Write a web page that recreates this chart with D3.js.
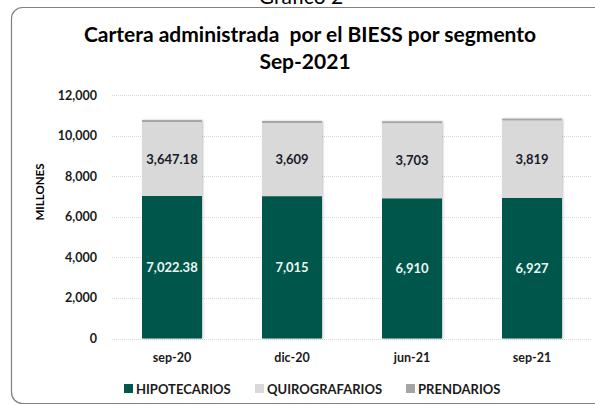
<!DOCTYPE html>
<html>
<head>
<meta charset="utf-8">
<script src="https://cdn.jsdelivr.net/npm/d3@7"></script>
<style>
  body { margin: 0; background: #fff; }
  svg { display: block; font-family: Lato, "Open Sans", sans-serif; }
</style>
</head>
<body>
<script>
// data
var categories = ["sep-20", "dic-20", "jun-21", "sep-21"];
var hipotecarios = [7022.38, 7015, 6910, 6927];
var quirografarios = [3647.18, 3609, 3703, 3819];
var prendarios = [95, 92, 90, 88];   // thin strip on top, no label
var hipoLabels = ["7,022.38", "7,015", "6,910", "6,927"];
var quiroLabels = ["3,647.18", "3,609", "3,703", "3,819"];
var yTicks = [0, 2000, 4000, 6000, 8000, 10000, 12000];
var seriesNames = ["HIPOTECARIOS", "QUIROGRAFARIOS", "PRENDARIOS"];
var colors = ["#00574b", "#d9d9d9", "#a5a5a5"];

var width = 595, height = 405;

var svg = d3.select("body").append("svg")
  .attr("width", width)
  .attr("height", height);

// caption above the frame, cut by the top edge as in the reference
svg.append("text")
  .attr("x", 301).attr("y", 4)
  .attr("text-anchor", "middle")
  .style("font-size", "21px")
  .text("Gráfico 2");

// chart frame (right side runs off the picture)
svg.append("rect")
  .attr("x", 11.5).attr("y", 7.5)
  .attr("width", 640).attr("height", 396)
  .attr("rx", 11)
  .attr("fill", "none")
  .attr("stroke", "#808080")
  .attr("stroke-width", 1.2);

// title
svg.append("text")
  .attr("x", 310).attr("y", 42)
  .attr("text-anchor", "middle")
  .style("white-space", "pre")
  .style("font-size", "21px").style("font-weight", "bold")
  .text("Cartera administrada  por el BIESS por segmento");
svg.append("text")
  .attr("x", 305).attr("y", 69)
  .attr("text-anchor", "middle")
  .style("font-size", "21px").style("font-weight", "bold")
  .text("Sep-2021");

var x = d3.scaleBand()
  .domain(categories)
  .range([112, 592])
  .paddingInner(0.5)
  .paddingOuter(0.25);

var y = d3.scaleLinear()
  .domain([0, 12000])
  .range([338.5, 95]);

// gridlines
svg.append("g")
  .selectAll("line")
  .data(yTicks)
  .enter().append("line")
  .attr("x1", 112).attr("x2", 592)
  .attr("y1", d => Math.round(y(d)) + 0.5)
  .attr("y2", d => Math.round(y(d)) + 0.5)
  .attr("stroke", "#d9d9d9")
  .attr("stroke-dasharray", "1,1");

// y axis labels
var yAxis = d3.axisLeft(y)
  .tickValues(yTicks)
  .tickFormat(d3.format(","))
  .tickSize(0)
  .tickPadding(0);
var gy = svg.append("g")
  .attr("transform", "translate(97,0)")
  .call(yAxis);
gy.select(".domain").remove();
gy.selectAll("text")
  .style("font-family", "Lato, sans-serif")
  .style("font-size", "12.5px")
  .style("font-weight", "bold")
  .attr("fill", "#1a1a1a");

svg.append("text")
  .attr("transform", "translate(44,192) rotate(-90)")
  .attr("text-anchor", "middle")
  .style("font-size", "11.5px").style("font-weight", "bold")
  .text("MILLONES");

// stacked bars
var rows = categories.map((c, i) => ({
  cat: c,
  HIPOTECARIOS: hipotecarios[i],
  QUIROGRAFARIOS: quirografarios[i],
  PRENDARIOS: prendarios[i]
}));
var stacked = d3.stack().keys(seriesNames)(rows);

var defs = svg.append("defs");
var shadow = defs.append("filter").attr("id", "shadow")
  .attr("x", "-10%").attr("y", "-10%").attr("width", "130%").attr("height", "130%");
shadow.append("feDropShadow")
  .attr("dx", 1).attr("dy", 0).attr("stdDeviation", 1.2)
  .attr("flood-color", "#000").attr("flood-opacity", 0.25);

var layers = svg.append("g").attr("filter", "url(#shadow)")
  .selectAll("g")
  .data(stacked)
  .enter().append("g")
  .attr("fill", (d, i) => colors[i]);

layers.selectAll("rect")
  .data(d => d)
  .enter().append("rect")
  .attr("x", d => x(d.data.cat))
  .attr("width", x.bandwidth())
  .attr("y", d => y(d[1]))
  .attr("height", d => y(d[0]) - y(d[1]));

// value labels at the middle of each segment
svg.append("g")
  .selectAll("text")
  .data(stacked[0])
  .enter().append("text")
  .attr("x", d => x(d.data.cat) + x.bandwidth() / 2)
  .attr("y", d => (y(d[0]) + y(d[1])) / 2)
  .attr("dy", "0.35em")
  .attr("text-anchor", "middle")
  .attr("fill", "#eaf6f4")
  .style("font-size", "13px").style("font-weight", "bold")
  .text((d, i) => hipoLabels[i]);

svg.append("g")
  .selectAll("text")
  .data(stacked[1])
  .enter().append("text")
  .attr("x", d => x(d.data.cat) + x.bandwidth() / 2)
  .attr("y", d => (y(d[0]) + y(d[1])) / 2)
  .attr("dy", "0.35em")
  .attr("text-anchor", "middle")
  .attr("fill", "#1a1a2a")
  .style("font-size", "13px").style("font-weight", "bold")
  .text((d, i) => quiroLabels[i]);

// x axis labels
var xAxis = d3.axisBottom(x).tickSize(0).tickPadding(0);
var gx = svg.append("g")
  .attr("transform", "translate(0,353)")
  .call(xAxis);
gx.select(".domain").remove();
gx.selectAll("text")
  .style("font-family", "Lato, sans-serif")
  .style("font-size", "12.5px")
  .style("font-weight", "bold")
  .attr("fill", "#1a1a1a");

// legend
var legendX = [124, 255, 406];
var legend = svg.append("g")
  .selectAll("g")
  .data(seriesNames)
  .enter().append("g")
  .attr("transform", (d, i) => "translate(" + legendX[i] + ",384)");
legend.append("rect")
  .attr("width", 9).attr("height", 9)
  .attr("fill", (d, i) => colors[i]);
legend.append("text")
  .attr("x", 12).attr("y", 9.5)
  .style("font-size", "13px").style("font-weight", "bold")
  .attr("fill", "#1a1a1a")
  .text(d => d);
</script>
</body>
</html>
